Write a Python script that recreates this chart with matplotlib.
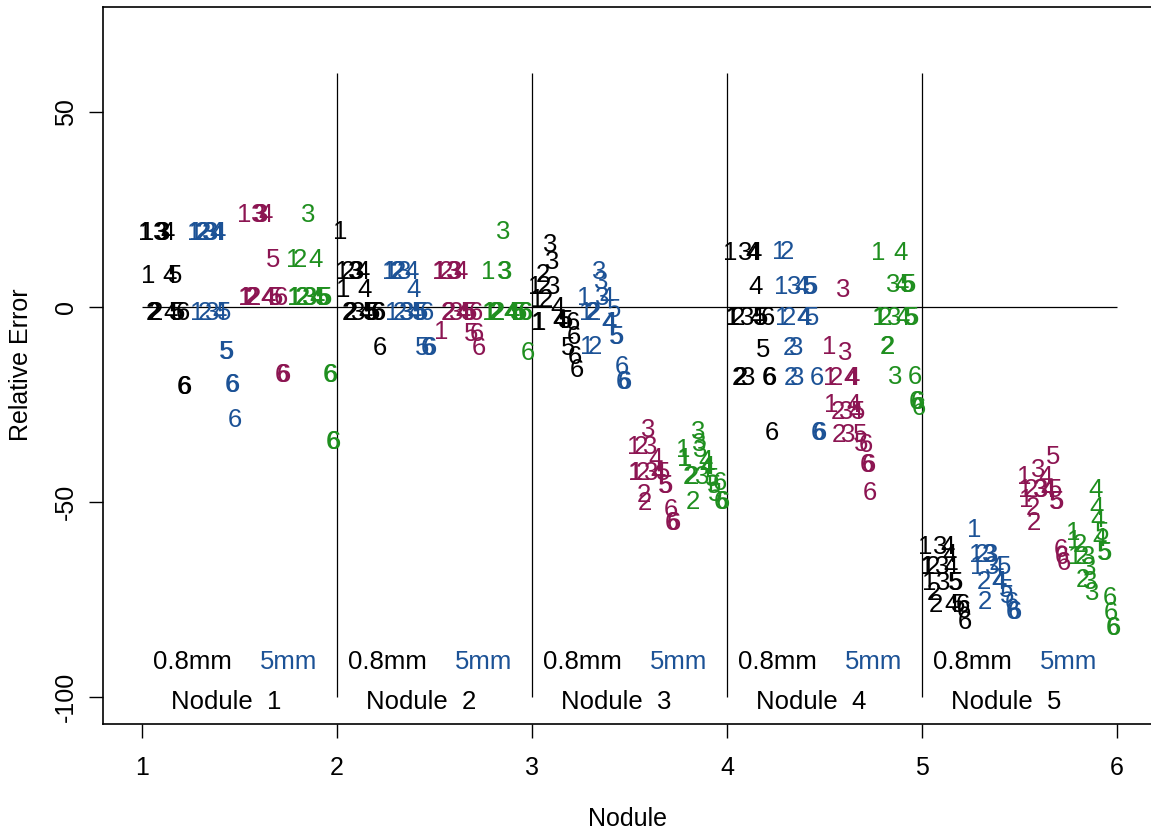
import matplotlib.pyplot as plt

plt.rcParams['font.family'] = ['Liberation Sans', 'DejaVu Sans']
plt.rcParams['axes.unicode_minus'] = False

# relative error per nodule, one list per reconstruction (labels 1..6)
n1_black = [[19, 19, 8], [-1.5, -1.5, -1.5], [19, 19, 19], [19, 8, -1.5], [8, -1.5, -1.5], [-1.5, -20.5, -20.5]]
n1_blue = [[19, 19, -1.5], [19, 19, -1.5], [19, 19, -1.5], [19, 19, -1.5], [-1.5, -11.5, -11.5], [-20, -20, -29]]
n1_purple = [[23.6, 2.3, 2.3], [2.3, 2.3, 2.3], [23.6, 23.6, 23.6], [23.6, 2.3, 2.3], [12, 2.3, 2.3], [2.3, -17.4, -17.4]]
n1_green = [[12, 2.3, 2.3], [12, 2.3, 2.3], [23.6, 2.3, 2.3], [12, 2.3, 2.3], [2.3, 2.3, 2.3], [-17.4, -17.4, -34.6, -34.6]]

n2_black = [[19.3, 9, 4.4], [9, -1.6, -1.6], [9, 9, -1.6], [9, 4.4, -1.6], [-1.6, -1.6, -1.6], [-1.6, -1.6, -10.5]]
n2_blue = [[9, 9, -1.6], [9, 9, -1.6], [9, -1.6, -1.6], [9, 4.4, -1.6], [-1.6, -1.6, -10.5], [-1.6, -10.5, -10.5]]
n2_purple = [[9, 9, -6.3], [9, -1.6, -1.6], [9, 9, -1.6], [9, -1.6, -1.6], [-1.6, -1.6, -6.8], [-1.6, -6.8, -10.5]]
n2_green = [[9, -1.6, -1.6], [-1.6, -1.6, -1.6], [19.3, 9, 9], [-1.6, -1.6, -1.6], [-1.6, -1.6, -1.6], [-1.6, -1.6, -11.7]]

n3_black = [[5.1, 1.8, -4.1, -4.1], [8.2, 5.1, 1.8], [15.9, 11.5, 5.1], [-0.3, -3.5, -3.5], [-3.5, -3.5, -10.5], [-4, -7.7, -12.8, -16.2]]
n3_blue = [[2.3, -1.5, -10.2], [-1.5, -1.5, -10.2], [9, 6.4, 2.3], [2.3, -4.1, -4.1], [-0.8, -7.7, -7.7], [-15.4, -19.3, -19.3]]
n3_purple = [[-36, -42.6, -42.6], [-36, -42.6, -48.2, -50.3], [-31.5, -36, -42.6], [-39, -42.6, -42.6], [-42.6, -46, -46], [-52, -55.4, -55.4]]
n3_green = [[-36.7, -39, -39], [-43.6, -43.6, -50], [-32, -35, -36.7, -43.6], [-39.5, -41, -41], [-44, -46, -48], [-45, -50, -50]]

n4_black = [[13.8, -2.8, -2.8], [-2.8, -18.2, -18.2], [13.8, -2.8, -18.2], [13.8, 13.8, 5.1, -2.8], [-2.8, -2.8, -11], [-2.8, -18.2, -18.2, -32.3]]
n4_blue = [[14, 5.1, -2.8], [14, -2.8, -10.5, -18.2], [5.1, -10.5, -18.2], [5.1, -2.8, -2.8], [5.1, 5.1, -2.8], [-18.2, -32.3, -32.3]]
n4_purple = [[-10.2, -18.2, -25], [-18.2, -27, -32.8], [4.4, -11.9, -27, -32.8], [-18.2, -18.2, -25, -27], [-27, -32.8, -35], [-35.5, -40.5, -40.5, -47.7]]
n4_green = [[13.8, -2.8, -2.8], [-2.8, -10.2, -10.2], [5.6, -2.8, -18], [13.8, 5.6, -2.8], [5.6, 5.6, -2.8, -2.8], [-18, -24.4, -24.4, -26]]

n5_black = [[-61.5, -66.7, -66.7, -70.8], [-66.7, -73.3, -76.4], [-61.5, -66.7, -70.8], [-61.5, -63.6, -66.7, -76.4], [-70.8, -70.8, -76.4], [-76.4, -78, -80.8]]
n5_blue = [[-57.2, -63.6, -66.7], [-63.6, -70.5, -75.6], [-63.6, -63.6, -66.7], [-66.7, -70.5, -70.5], [-66.7, -72.6, -74], [-76, -78.2, -78.2]]
n5_purple = [[-43.6, -47, -49.5], [-47, -51.5, -55.4], [-41.8, -47, -47], [-43.6, -47, -47], [-38.5, -47, -50, -50], [-62.3, -64, -65.6]]
n5_green = [[-58, -60, -64], [-61, -64, -70], [-64, -67, -70.5, -73.3], [-47, -51.5, -54.6, -59.5], [-58, -63, -63], [-74.6, -78.5, -82.3, -82.3]]

nodules = [1, 2, 3, 4, 5]
series = [
    [n1_black, n1_blue, n1_purple, n1_green],
    [n2_black, n2_blue, n2_purple, n2_green],
    [n3_black, n3_blue, n3_purple, n3_green],
    [n4_black, n4_blue, n4_purple, n4_green],
    [n5_black, n5_blue, n5_purple, n5_green],
]
colors = ['black', '#1c5296', '#8c1552', '#1f8f1f']
fs = 18.5

fig = plt.figure(figsize=(11.51, 8.33), dpi=100)
ax = fig.add_axes([103 / 1151, 109 / 833, 1053 / 1151, 717 / 833])

ax.set_xlim(0.8, 6.2)
ax.set_ylim(-106.9, 76.9)

# markers are the label numbers themselves
for n, groups in zip(nodules, series):
    for g, group in enumerate(groups):
        for k, vals in enumerate(group):
            for r, v in enumerate(vals):
                x = n + 0.018 + 0.252 * g + 0.038 * k + 0.007 * r
                ax.text(x, v, str(k + 1), color=colors[g], fontsize=fs,
                        ha='center', va='center')

ax.hlines(0, 1, 6, color='black', lw=0.9)
ax.vlines([2, 3, 4, 5], -100, 60, color='black', lw=0.9)

for n in nodules:
    ax.text(n + 0.26, -91, '0.8mm', fontsize=fs, ha='center', va='center')
    ax.text(n + 0.75, -91, '5mm', fontsize=fs, ha='center', va='center',
            color=colors[1])
    ax.text(n + 0.43, -101.3, 'Nodule  %d' % n, fontsize=fs,
            ha='center', va='center')

ax.spines['right'].set_visible(False)
for s in ['left', 'bottom', 'top']:
    ax.spines[s].set_linewidth(1.2)

ax.set_xticks([1, 2, 3, 4, 5, 6])
ax.set_yticks([-100, -50, 0, 50])
ax.tick_params(axis='x', length=10, width=1, labelsize=18, pad=13)
ax.tick_params(axis='y', length=10, width=1, labelsize=18, pad=8)
for lab in ax.get_yticklabels():
    lab.set_rotation(90)
    lab.set_va('center')

ax.set_xlabel('Nodule', fontsize=18)
ax.set_ylabel('Relative Error', fontsize=18)
ax.xaxis.label.set_va('center')
ax.yaxis.label.set_va('center')
ax.xaxis.set_label_coords((627 - 103) / 1053, -(819 - 724) / 717)
ax.yaxis.set_label_coords(-(103 - 21) / 1053, (724 - 365) / 717)

fig.savefig('out.png', dpi=100)
